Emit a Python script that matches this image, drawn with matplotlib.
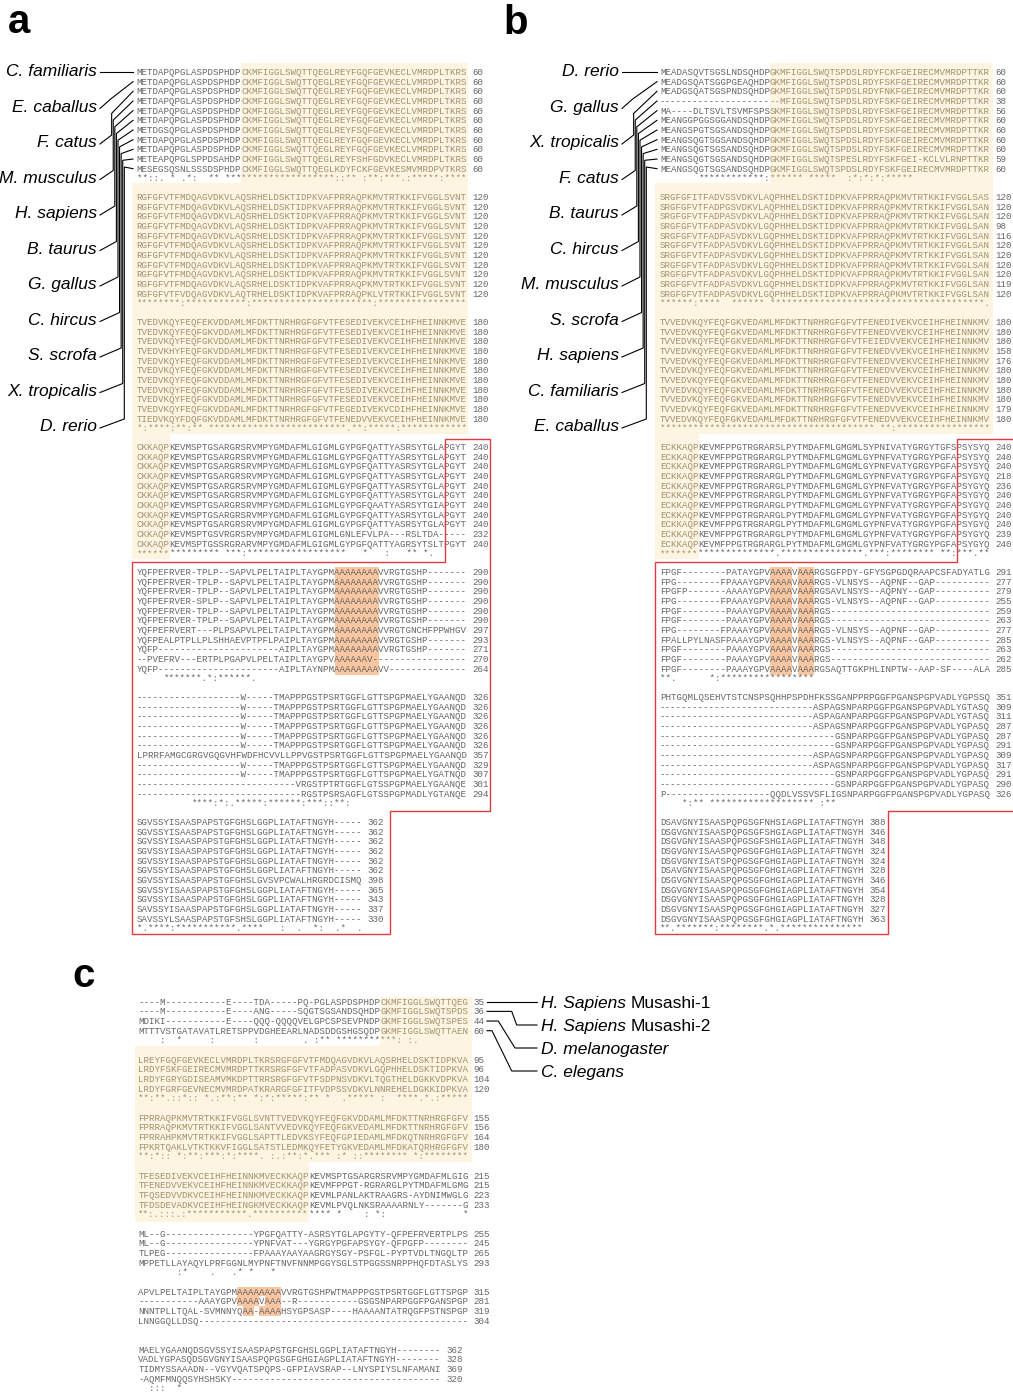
import matplotlib.pyplot as plt
from matplotlib.patches import Polygon, Rectangle

# ---------------------------------------------------------------- data
SPECIES_A = ['C. familiaris', 'E. caballus', 'F. catus', 'M. musculus', 'H. sapiens',
             'B. taurus', 'G. gallus', 'C. hircus', 'S. scrofa', 'X. tropicalis', 'D. rerio']
SPECIES_B = ['D. rerio', 'G. gallus', 'X. tropicalis', 'F. catus', 'B. taurus', 'C. hircus',
             'M. musculus', 'S. scrofa', 'H. sapiens', 'C. familiaris', 'E. caballus']
SPECIES_C = [('H. Sapiens', 'Musashi-1'), ('H. Sapiens', 'Musashi-2'),
             ('D. melanogaster', ''), ('C. elegans', '')]

# Musashi-1 orthologues (panel a)
A_BLOCK1 = [
    "METDAPQPGLASPDSPHDPCKMFIGGLSWQTTQEGLREYFGQFGEVKECLVMRDPLTKRS",
    "METDAPQPGLASPDSPHDPCKMFIGGLSWQTTQEGLREYFGQFGEVKECLVMRDPLTKRS",
    "METDAPQPGLASPDSPHDPCKMFIGGLSWQTTQEGLREYFGQFGEVKECLVMRDPLTKRS",
    "METDAPQPGLASPDSPHDPCKMFIGGLSWQTTQEGLREYFGQFGEVKECLVMRDPLTKRS",
    "METDAPQPGLASPDSPHDPCKMFIGGLSWQTTQEGLREYFGQFGEVKECLVMRDPLTKRS",
    "METDAPQPGLASPDSPHDPCKMFIGGLSWQTTQEGLREYFGQFGEVKECLVMRDPLTKRS",
    "METDGSQPGLASPDSPHDPCKMFIGGLSWQTTQEGLREYFSQFGEVKECLVMRDPLTKRS",
    "METDAPQPGLASPDSPHDPCKMFIGGLSWQTTQEGLREYFGQFGEVKECLVMRDPLTKRS",
    "METDAPQPGLASPDSPHDPCKMFIGGLSWQTTQEGLREYFGQFGEVKECLVMRDPLTKRS",
    "METEAPQPGLSPPDSAHDPCKMFIGGLSWQTTQEGLREYFSHFGDVKECLVMRDPLTKRS",
    "MESEGSQSNLSSSDSPHDPCKMFIGGLSWQTTQEGLKDYFCKFGEVKESMVMRDPVTKRS",
]
A_BLOCK2 = [
    "RGFGFVTFMDQAGVDKVLAQSRHELDSKTIDPKVAFPRRAQPKMVTRTKKIFVGGLSVNT",
    "RGFGFVTFMDQAGVDKVLAQSRHELDSKTIDPKVAFPRRAQPKMVTRTKKIFVGGLSVNT",
    "RGFGFVTFMDQAGVDKVLAQSRHELDSKTIDPKVAFPRRAQPKMVTRTKKIFVGGLSVNT",
    "RGFGFVTFMDQAGVDKVLAQSRHELDSKTIDPKVAFPRRAQPKMVTRTKKIFVGGLSVNT",
    "RGFGFVTFMDQAGVDKVLAQSRHELDSKTIDPKVAFPRRAQPKMVTRTKKIFVGGLSVNT",
    "RGFGFVTFMDQAGVDKVLAQSRHELDSKTIDPKVAFPRRAQPKMVTRTKKIFVGGLSVNT",
    "RGFGFVTFMDQAGVDKVLAQSRHELDSKTIDPKVAFPRRAQPKMVTRTKKIFVGGLSVNT",
    "RGFGFVTFMDQAGVDKVLAQSRHELDSKTIDPKVAFPRRAQPKMVTRTKKIFVGGLSVNT",
    "RGFGFVTFMDQAGVDKVLAQSRHELDSKTIDPKVAFPRRAQPKMVTRTKKIFVGGLSVNT",
    "RGFGFVTFMDQAGVDKVLAQSRHELDSKTIDPKVAFPRRAQPKMVTRTKKIFVGGLSVNT",
    "RGFGFVTFVDQAGVDKVLAQTRHELDSKTIDPKVAFPRRAQPKLVTRTKKIFVGGLSVNT",
]
A_BLOCK3 = [
    "TVEDVKQYFEQFEKVDDAMLMFDKTTNRHRGFGFVTFESEDIVEKVCEIHFHEINNKMVE",
    "TVEDVKQYFEQFGKVDDAMLMFDKTTNRHRGFGFVTFESEDIVEKVCEIHFHEINNKMVE",
    "TVEDVKQYFEQFGKVDDAMLMFDKTTNRHRGFGFVTFESEDIVEKVCEIHFHEINNKMVE",
    "TVEDVKHYFEQFGKVDDAMLMFDKTTNRHRGFGFVTFESEDIVEKVCEIHFHEINNKMVE",
    "TVEDVKQYFEQFGKVDDAMLMFDKTTNRHRGFGFVTFESEDIVEKVCEIHFHEINNKMVE",
    "TVEDVKQYFEQFGKVDDAMLMFDKTTNRHRGFGFVTFESEDIVEKVCEIHFHEINNKMVE",
    "TVEDVKQYFEQFGKVDDAMLMFDKTTNRHRGFGFVTFESEDIVEKVCEIHFHEINNKMVE",
    "TVEDVKQYFEQFGKVDDAMLMFDKTTNRHRGFGFVTFESEDIVEKVCEIHFHEINNKMVE",
    "TVEDVKQYFEQFGKVDDAMLMFDKTTNRHRGFGFVTFESEDIVEKVCEIHFHEINNKMVE",
    "TVEDVKQYFEQFGKVDDAMLMFDKTTNRHRGFGFVTFEGEDIVEKVCDIHFHEINNKMVE",
    "TIEDVKQYFDQFGKVDDAMLMFDKTTNRHRGFGFVTFENEDVVEKVCEIHFHEINNKMVE",
]
A_BLOCK4 = [
    "CKKAQPKEVMSPTGSARGRSRVMPYGMDAFMLGIGMLGYPGFQATTYASRSYTGLAPGYT",
    "CKKAQPKEVMSPTGSARGRSRVMPYGMDAFMLGIGMLGYPGFQATTYASRSYTGLAPGYT",
    "CKKAQPKEVMSPTGSARGRSRVMPYGMDAFMLGIGMLGYPGFQATTYASRSYTGLAPGYT",
    "CKKAQPKEVMSPTGSARGRSRVMPYGMDAFMLGIGMLGYPGFQATTYASRSYTGLAPGYT",
    "CKKAQPKEVMSPTGSARGRSRVMPYGMDAFMLGIGMLGYPGFQATTYASRSYTGLAPGYT",
    "CKKAQPKEVMSPTGSARGRSRVMPYGMDAFMLGIGMLGYPGFQATTYASRSYTGLAPGYT",
    "CKKAQPKEVMSPTGSARGRSRVMPYGMDAFMLGIGMLGYPGFQAATYASRSYTGIAPGYT",
    "CKKAQPKEVMSPTGSARGRSRVMPYGMDAFMLGIGMLGYPGFQATTYASRSYTGLAPGYT",
    "CKKAQPKEVMSPTGSARGRSRVMPYGMDAFMLGIGMLGYPGFQATTYASRSYTGLAPGYT",
    "CKKAQPKEVMSPTGSVRGRSRVMPYGMDAFMLGIGMLGNLEFVLPA---RSLTDA-----",
    "CKKAQPKEVMSPTGSSRGRARVMPYGMDAFMLGIGMLGYPGFQATTYAGRSYTSLTPGYT",
]
A_BLOCK5 = [
    "YQFPEFRVER-TPLP--SAPVLPELTAIPLTAYGPMAAAAAAAAVVRGTGSHP-------",
    "YQFPEFRVER-TPLP--SAPVLPELTAIPLTAYGPMAAAAAAAAVVRGTGSHP-------",
    "YQFPEFRVER-TPLP--SAPVLPELTAIPLTAYGPMAAAAAAAAVVRGTGSHP-------",
    "YQFPEFRVER-SPLP--SAPVLPELTAIPLTAYGPMAAAAAAAAVVRGTGSHP-------",
    "YQFPEFRVER-TPLP--SAPVLPELTAIPLTAYGPMAAAAAAAAVVRGTGSHP-------",
    "YQFPEFRVER-TPLP--SAPVLPELTAIPLTAYGPMAAAAAAAAVVRGTGSHP-------",
    "YQFPEFRVERT---PLPSAPVLPELTAIPLTAYGPMAAAAAAAAVVRGTGNCHFPPWHGV",
    "YQFPEALPTPLLPLSHHAEVPTPFLPAIPLTAYGPMAAAAAAAAVVRGTGSHP-------",
    "YQFP----------------------AIPLTAYGPMAAAAAAAAVVRGTGSHP-------",
    "--PVEFRV---ERTPLPGAPVLPELTAIPLTAYGPVAAAAAAV-----------------",
    "YQFP----------------------AIPLTAYNPMAAAAAAAAVV--------------",
]
A_BLOCK6 = [
    "-------------------W-----TMAPPPGSTPSRTGGFLGTTSPGPMAELYGAANQD",
    "-------------------W-----TMAPPPGSTPSRTGGFLGTTSPGPMAELYGAANQD",
    "-------------------W-----TMAPPPGSTPSRTGGFLGTTSPGPMAELYGAANQD",
    "-------------------W-----TMAPPPGSTPSRTGGFLGTTSPGPMAELYGAANQD",
    "-------------------W-----TMAPPPGSTPSRTGGFLGTTSPGPMAELYGAANQD",
    "-------------------W-----TMAPPPGSTPSRTGGFLGTTSPGPMAELYGAANQD",
    "LPRRFAMGCGRGVGQGVHFWDFHCVVLLPPVGSTPSRTGGFLGTTSPGPMAELYGAANQD",
    "-------------------W-----TMAPPPGSTPSRTGGFLGTTSPGPMAELYGAANQD",
    "-------------------W-----TMAPPPGSTPSRTGGFLGTTSPGPMAELYGATNQD",
    "-----------------------------VRGSTPTRTGGFLGTSSPGPMAELYGAANQE",
    "------------------------------RGSTPSRSAGFLGTSSPGPMADLYGTANQE",
]
A_BLOCK7 = [
    "SGVSSYISAASPAPSTGFGHSLGGPLIATAFTNGYH-----",
    "SGVSSYISAASPAPSTGFGHSLGGPLIATAFTNGYH-----",
    "SGVSSYISAASPAPSTGFGHSLGGPLIATAFTNGYH-----",
    "SGVSSYISAASPAPSTGFGHSLGGPLIATAFTNGYH-----",
    "SGVSSYISAASPAPSTGFGHSLGGPLIATAFTNGYH-----",
    "SGVSSYISAASPAPSTGFGHSLGGPLIATAFTNGYH-----",
    "SGVSSYISAASPAPSTGFGHSLGVSVPCWALHRGRDCISMQ",
    "SGVSSYISAASPAPSTGFGHSLGGPLIATAFTNGYH-----",
    "SGVSSYISAASPAPSTGFGHSLGGPLIATAFTNGYH-----",
    "SAVSSYISAASPAPSTGFGHSLGGPLIATAFTNGYH-----",
    "SAVSSYLSAASPAPSTGFSHSLGGPLIATAFTNGYH-----",
]
A_BLOCKS = [A_BLOCK1, A_BLOCK2, A_BLOCK3, A_BLOCK4, A_BLOCK5, A_BLOCK6, A_BLOCK7]
A_NUMS = [
    [60, 60, 60, 60, 60, 60, 60, 60, 60, 60, 60],
    [120, 120, 120, 120, 120, 120, 120, 120, 120, 120, 120],
    [180, 180, 180, 180, 180, 180, 180, 180, 180, 180, 180],
    [240, 240, 240, 240, 240, 240, 240, 240, 240, 232, 240],
    [290, 290, 290, 290, 290, 290, 297, 293, 271, 270, 264],
    [326, 326, 326, 326, 326, 326, 357, 329, 307, 301, 294],
    [362, 362, 362, 362, 362, 362, 398, 365, 343, 337, 330],
]
A_CONS = [
    "**::. * .*:  ** ********************::** :**:***.:*****:****",
    "********:***********:**********************:****************",
    "*:****:**:** *************************.**:*****:************",
    "*************** ***:******************   *   :   ** *.",
    "     *******.*:******.",
    "          ****:*:.*****:******:***::**:",
    "*.****:***********.****   :  .  *:  .*  .",
]

# Musashi-2 orthologues (panel b)
B_BLOCK1 = [
    "MEADASQVTSGSLNDSQHDPGKMFIGGLSWQTSPDSLRDYFCKFGEIRECMVMRDPTTKR",
    "MEADGSQATSGGPGEAQHDPGKMFIGGLSWQTSPDSLRDYFSKFGEIRECMVMRDPTTKR",
    "MEADGSQATSGSPNDSQHDPGKMFIGGLSWQTSPDSLRDYFNKFGEIRECMVMRDPTTKR",
    "----------------------MFIGGLSWQTSPDSLRDYFSKFGEIRECMVMRDPTTKR",
    "MA----DLTSVLTSVMFSPSSKMFIGGLSWQTSPDSLRDYFSKFGEIRECMVMRDPTTKR",
    "MEANGGPGGSGGANDSQHDPGKMFIGGLSWQTSPDSLRDYFSKFGEIRECMVMRDPTTKR",
    "MEANGSPGTSGSANDSQHDPGKMFIGGLSWQTSPDSLRDYFSKFGEIRECMVMRDPTTKR",
    "MEANGSQGTSGSANDSQHDPGKMFIGGLSWQTSPDSLRDYFSKFGEIRECMVMRDPTTKR",
    "MEANGSQGTSGSANDSQHDPGKMFIGGLSWQTSPDSLRDYFSKFGEIRECMVMRDPTTKR",
    "MEANGSQGTSGSANDSQHDPGKMFIGGLSWQTSPESLRDYFSKFGEI-KCLVLRNPTTKR",
    "MEANGSQGTSGSANDSQHDPGKMFIGGLSWQTSPDSLRDYFSKFGEIRECMVMRDPTTKR",
]
B_BLOCK2 = [
    "SRGFGFITFADVSSVDKVLAQPHHELDSKTIDPKVAFPRRAQPKMVTRTKKIFVGGLSAS",
    "SRGFGFVTFADPGSVDKVLAQPHHELDSKTIDPKVAFPRRAQPKMVTRTKKIFVGGLSAN",
    "SRGFGFVTFADPASVDKVLAQPHHELDSKTIDPKVAFPRRAQPKMVTRTKKIFVGGLSAN",
    "SRGFGFVTFADPASVDKVLGQPHHELDSKTIDPKVAFPRRAQPKMVTRTKKIFVGGLSAN",
    "SRGFGFVTFADPASVDKVLGQPHHELDSKTIDPKVAFPRRAQPKMVTRTKKIFVGGLSAN",
    "SRGFGFVTFADPASVDKVLGQPHHELDSKTIDPKVAFPRRAQPKMVTRTKKIFVGGLSAN",
    "SRGFGFVTFADPASVDKVLGQPHHELDSKTIDPKVAFPRRAQPKMVTRTKKIFVGGLSAN",
    "SRGFGFVTFADPASVDKVLGQPHHELDSKTIDPKVAFPRRAQPKMVTRTKKIFVGGLSAN",
    "SRGFGFVTFADPASVDKVLGQPHHELDSKTIDPKVAFPRRAQPKMVTRTKKIFVGGLSAN",
    "SRGFGFVTFADPASVDKVLGQPHHELDSKTIDPKVAFPRRAQPKMVTRTKKIFVGGLSAN",
    "SRGFGFVTFADPASVDKVLGQPHHELDSKTIDPKVAFPRRAQPKMVTRTKKIFVGGLSAN",
]
B_BLOCK3 = [
    "TVVEDVKQYFEQFGKVEDAMLMFDKTTNRHRGFGFVTFENEDIVEKVCEIHFHEINNKMV",
    "TVVEDVKQYFEQFGKVEDAMLMFDKTTNRHRGFGFVTFENEDVVEKVCEIHFHEINNKMV",
    "TVVEDVKQYFEQFGKVEDAMLMFDKTTNRHRGFGFVTFEIEDVVEKVCEIHFHEINNKMV",
    "TVVEDVKQYFEQFGKVEDAMLMFDKTTNRHRGFGFVTFENEDVVEKVCEIHFHEINNKMV",
    "TVVEDVKQYFEQFGKVEDAMLMFDKTTNRHRGFGFVTFENEDVVEKVCEIHFHEINNKMV",
    "TVVEDVKQYFEQFGKVEDAMLMFDKTTNRHRGFGFVTFENEDVVEKVCEIHFHEINNKMV",
    "TVVEDVKQYFEQFGKVEDAMLMFDKTTNRHRGFGFVTFENEDVVEKVCEIHFHEINNKMV",
    "TVVEDVKQYFEQFGKVEDAMLMFDKTTNRHRGFGFVTFENEDVVEKVCEIHFHEINNKMV",
    "TVVEDVKQYFEQFGKVEDAMLMFDKTTNRHRGFGFVTFENEDVVEKVCEIHFHEINNKMV",
    "TVVEDVKQYFEQFGKVEDAMLMFDKTTNRHRGFGFVTFENEDVVEKVCEIHFHEINNKMV",
    "TVVEDVKQYFEQFGKVEDAMLMFDKTTNRHRGFGFVTFENEDVVEKVCEIHFHEINNKMV",
]
B_BLOCK4 = [
    "ECKKAQPKEVMFPPGTRGRARSLPYTMDAFMLGMGMLSYPNIVATYGRGYTGFSPSYSYQ",
    "ECKKAQPKEVMFPPGTRGRARGLPYTMDAFMLGMGMLGYPNFVATYGRGYPGFAPSYSYQ",
    "ECKKAQPKEVMFPPGTRGRARGLPYTMDAFMLGMGMLGYPNFVATYGRGYPGFAPSYSYQ",
    "ECKKAQPKEVMFPPGTRGRARGLPYTMDAFMLGMGMLGYPNFVATYGRGYPGFAPSYGYQ",
    "ECKKAQPKEVMFPPGTRGRARGLPYTMDAFMLGMGMLGYPNFVATYGRGYPGFAPSYGYQ",
    "ECKKAQPKEVMFPPGTRGRARGLPYTMDAFMLGMGMLGYPNFVATYGRGYPGFAPSYGYQ",
    "ECKKAQPKEVMFPPGTRGRARGLPYTMDAFMLGMGMLGYPNFVATYGRGYPGFAPSYGYQ",
    "ECKKAQPKEVMFPPGTRGRARGLPYTMDAFMLGMGMLGYPNFVATYGRGYPGFAPSYGYQ",
    "ECKKAQPKEVMFPPGTRGRARGLPYTMDAFMLGMGMLGYPNFVATYGRGYPGFAPSYGYQ",
    "ECKKAQPKEVMFPPGTRGRARGLPYTMDAFMLGMGMLGYPNFVATYGRGYPGFAPSYGYQ",
    "ECKKAQPKEVMFPPGTRGRARGLPYTMDAFMLGMGMLGYPNFVATYGRGYPGFAPSYGYQ",
]
B_BLOCK5 = [
    "FPGF--------PATAYGPVAAAAVAAARGSGFPDY-GFYSGPGDQRAAPCSFADYATLG",
    "FPG--------FPAAAYGPVAAAAVAAARGS-VLNSYS--AQPNF--GAP----------",
    "FPGFP-------AAAAYGPVAAAAVAAARGSAVLNSYS--AQPNY--GAP----------",
    "FPG--------FPAAAYGPVAAAAVAAARGS-VLNSYS--AQPNF--GAP----------",
    "FPGF--------PAAAYGPVAAAAVAAARGS-----------------------------",
    "FPGF--------PAAAYGPVAAAAVAAARGS-----------------------------",
    "FPG--------FPAAAYGPVAAAAVAAARGS-VLNSYS--AQPNF--GAP----------",
    "FPALLPYLNASFPAAAYGPVAAAAVAAARGS-VLNSYS--AQPNF--GAP----------",
    "FPGF--------PAAAYGPVAAAAVAAARGS-----------------------------",
    "FPGF--------PAAAYGPVAAAAVAAARGS-----------------------------",
    "FPGF--------PAAAYGPVAAAAVAAARGSAQTTGKPHLINPTW--AAP-SF----ALA",
]
B_BLOCK6 = [
    "PHTGQMLQSEHVTSTCNSPSQHHPSPDHFKSSGANPPRPGGFPGANSPGPVADLYGPSSQ",
    "----------------------------ASPAGSNPARPGGFPGANSPGPVADLYGTASQ",
    "----------------------------ASPAGANPARPGGFPGANSPGPVADLYGTASQ",
    "----------------------------ASPAGSNPARPGGFPGANSPGPVADLYGPASQ",
    "--------------------------------GSNPARPGGFPGANSPGPVADLYGPASQ",
    "--------------------------------GSNPARPGGFPGANSPGPVADLYGPASQ",
    "----------------------------ASPAGSNPARPGGFPGANSPGPVADLYGPASQ",
    "----------------------------ASPAGSNPARPGGFPGANSPGPVADLYGPASQ",
    "--------------------------------GSNPARPGGFPGANSPGPVADLYGPASQ",
    "--------------------------------GSNPARPGGFPGANSPGPVADLYGPASQ",
    "P-------------------QQDLVSSVSFLIGSNPARPGGFPGANSPGPVADLYGPASQ",
]
B_BLOCK7 = [
    "DSAVGNYISAASPQPGSGFNHSIAGPLIATAFTNGYH",
    "DSGVGNYISAASPQPGSGFSHGIAGPLIATAFTNGYH",
    "DSGVGNYISAASPQPGSGFSHGIAGPLIATAFTNGYH",
    "DSGVGNYISAASPQPGSGFGHGIAGPLIATAFTNGYH",
    "DSGVGNYISATSPQPGSGFGHGIAGPLIATAFTNGYH",
    "DSAVGNYISAASPQPGSGFGHGIAGPLIATAFTNGYH",
    "DSGVGNYISAASPQPGSGFGHGIAGPLIATAFTNGYH",
    "DSGVGNYISAASPQPGSGFGHGIAGPLIATAFTNGYH",
    "DSGVGNYISAASPQPGSGFGHGIAGPLIATAFTNGYH",
    "DSGVGNYISAASPQPGSGFGHGIAGPLIATAFTNGYH",
    "DSGVGNYISAASPQPGSGFGHGIAGPLIATAFTNGYH",
]
B_BLOCKS = [B_BLOCK1, B_BLOCK2, B_BLOCK3, B_BLOCK4, B_BLOCK5, B_BLOCK6, B_BLOCK7]
B_NUMS = [
    [60, 60, 60, 38, 56, 60, 60, 60, 60, 59, 60],
    [120, 120, 120, 98, 116, 120, 120, 120, 120, 119, 120],
    [180, 180, 180, 158, 176, 180, 180, 180, 180, 179, 180],
    [240, 240, 240, 218, 236, 240, 240, 240, 240, 239, 240],
    [291, 277, 279, 255, 259, 263, 277, 285, 263, 262, 285],
    [351, 309, 311, 287, 287, 291, 309, 317, 291, 290, 326],
    [388, 346, 348, 324, 324, 328, 346, 354, 328, 327, 363],
]
B_CONS = [
    "       ************:****** *****  :*:*:*:*****",
    "******:****  ****** ***************************************.",
    "*************************************** **:*****************",
    "*********************.***************.***:******** **:***.**",
    "**.      *:*****************",
    "    *:** ******************* :**",
    "**.*******:********.*.***************",
]

# Musashi across phyla (panel c)
C_BLOCK1 = [
    "----M-----------E----TDA-----PQ-PGLASPDSPHDPCKMFIGGLSWQTTQEG",
    "----M-----------E----ANG-----SQGTSGSANDSQHDPGKMFIGGLSWQTSPDS",
    "MDIKI-----------E----QQQ-QQQQVELGPCSPSEVPNDPGKMFIGGLSWQTSPES",
    "MTTTVSTGATAVATLRETSPPVDGHEEARLNADSDDGSHGSQDPGKMFIGGLSWQTTAEN",
]
C_BLOCK2 = [
    "LREYFGQFGEVKECLVMRDPLTKRSRGFGFVTFMDQAGVDKVLAQSRHELDSKTIDPKVA",
    "LRDYFSKFGEIRECMVMRDPTTKRSRGFGFVTFADPASVDKVLGQPHHELDSKTIDPKVA",
    "LRDYFGRYGDISEAMVMKDPTTRRSRGFGFVTFSDPNSVDKVLTQGTHELDGKKVDPKVA",
    "LRDYFGRFGEVNECMVMRDPATKRARGFGFITFVDPSSVDKVLNNREHELDGKKIDPKVA",
]
C_BLOCK3 = [
    "FPRRAQPKMVTRTKKIFVGGLSVNTTVEDVKQYFEQFGKVDDAMLMFDKTTNRHRGFGFV",
    "FPRRAQPKMVTRTKKIFVGGLSANTVVEDVKQYFEQFGKVEDAMLMFDKTTNRHRGFGFV",
    "FPRRAHPKMVTRTKKIFVGGLSAPTTLEDVKSYFEQFGPIEDAMLMFDKQTNRHRGFGFV",
    "FPKRTQAKLVTKTKKVFIGGLSATSTLEDMKQYFETYGKVEDAMLMFDKATQRHRGFGFV",
]
C_BLOCK4 = [
    "TFESEDIVEKVCEIHFHEINNKMVECKKAQPKEVMSPTGSARGRSRVMPYGMDAFMLGIG",
    "TFENEDVVEKVCEIHFHEINNKMVECKKAQPKEVMFPPGT-RGRARGLPYTMDAFMLGMG",
    "TFQSEDVVDKVCEIHFHEINNKMVECKKAQPKEVMLPANLAKTRAAGRS-AYDNIMWGLG",
    "TFDSDEVADKVCEIHFHEINGKMVECKKAQPKEVMLPVQLNKSRAAAARNLY-------G",
]
C_BLOCK5 = [
    "ML--G----------------YPGFQATTY-ASRSYTGLAPGYTY-QFPEFRVERTPLPS",
    "ML--G----------------YPNFVAT---YGRGYPGFAPSYGY-QFPGFP--------",
    "TLPEG----------------FPAAAYAAYAAGRGYSGY-PSFGL-PYPTVDLTNGQLTP",
    "MPPETLLAYAQYLPRFGGNLMYPNFTNVFNNMPGGYSGLSTPGGSSNRPPHQFDTASLYS",
]
C_BLOCK6 = [
    "APVLPELTAIPLTAYGPMAAAAAAAAVVRGTGSHPWTMAPPPGSTPSRTGGFLGTTSPGP",
    "-----------AAAYGPVAAAAVAAA--R-----------GSGSNPARPGGFPGANSPGP",
    "NNNTPLLTQAL-SVMNNYQAA-AAAAHSYGPSASP----HAAAANTATRQGFPSTNSPGP",
    "LNNGGQLLDSQ-------------------------------------------------",
]
C_BLOCK7 = [
    "MAELYGAANQDSGVSSYISAASPAPSTGFGHSLGGPLIATAFTNGYH--------",
    "VADLYGPASQDSGVGNYISAASPQPGSGFGHGIAGPLIATAFTNGYH--------",
    "TIDMYSSAAADN--VGYVQATSPQPS-GFPIAVSRAP--LNYSPIYSLNFAMANI",
    "-AQMFMNQQSYHSHSKY--------------------------------------",
]
C_BLOCKS = [C_BLOCK1, C_BLOCK2, C_BLOCK3, C_BLOCK4, C_BLOCK5, C_BLOCK6, C_BLOCK7]
C_NUMS = [
    [35, 36, 44, 60],
    [95, 96, 104, 120],
    [155, 156, 164, 180],
    [215, 215, 223, 233],
    [255, 245, 265, 293],
    [315, 281, 319, 304],
    [362, 328, 369, 320],
]
C_CONS = [
    "    :  *     :       :        . :** ***********: :.",
    "**:**.::*:: *.:**:** *:*:*****:** *  .***** :  ****.*.:*****",
    "**:*:: *:**:***:*:****. :.:**:*.*** :* ::******** *:********",
    "**:.:::.:***********.************** *    : *:              *",
    "       :*    .   .* *   *",
    "",
    "  :::  *",
]

# --------------------------------------------------------------- layout
CW = 5.5            # character advance (px)
RH = 9.67           # row pitch (px)
BASE = 3.0          # baseline below row centre
A_X0, B_X0, C_X0 = 136.7, 660.0, 138.3
AB_Y0, AB_STEP = 72.0, 125.0
C_Y0, C_STEP = 1001.7, 58.0
LAB_Y0, LAB_STEP = 70.0, 35.5

INK = '#666666'
INK_TAN = '#a0906f'
SHADE = '#fdf5e1'
ALA = '#f8c6a0'
RED = '#e5393e'

# columns that sit on the cream background, per block
A_TAN = {0: (19, 60), 1: (0, 60), 2: (0, 60), 3: (0, 6)}
B_TAN = {0: (20, 60), 1: (0, 60), 2: (0, 60), 3: (0, 7)}
C_TAN = {0: (44, 60), 1: (0, 60), 2: (0, 60), 3: (0, 31)}

MONO = dict(family='Liberation Mono', fontsize=6.6, ha='left', va='baseline', zorder=3)
LAB = dict(family='Liberation Sans', fontsize=12.5, va='baseline', color='black')


def put_line(ax, x0, y, s, tan=None):
    c0, c1 = tan if tan else (0, 0)
    for a, b, col in ((0, c0, INK), (c0, c1, INK_TAN), (c1, len(s), INK)):
        part = s[a:b]
        if not part.strip():
            continue
        lead = len(part) - len(part.lstrip())
        ax.text(x0 + (a + lead) * CW, y + BASE, part.strip(), color=col, **MONO)


def draw_block(ax, x0, y0, rows, nums, cons, tan=None):
    for r, (s, n) in enumerate(zip(rows, nums)):
        y = y0 + r * RH
        put_line(ax, x0, y, s, tan)
        ax.text(x0 + (len(s) + 1) * CW, y + BASE, str(n), color=INK, **MONO)
    if cons:
        put_line(ax, x0, y0 + len(rows) * RH, cons, tan)


def cream(ax, x0, top, y1, y2, y3, c_first, c_last, left, right):
    pts = [(x0 + c_first * CW, top), (right, top), (right, y2),
           (x0 + c_last * CW, y2), (x0 + c_last * CW, y3), (left, y3),
           (left, y1), (x0 + c_first * CW, y1)]
    ax.add_patch(Polygon(pts, closed=True, facecolor=SHADE, edgecolor='none', zorder=0))


def ya(b, r):
    return AB_Y0 + b * AB_STEP + r * RH


def yc(b, r):
    return C_Y0 + b * C_STEP + r * RH


def leaders(ax, lab_x, seq_x, names, vert_x0):
    for i, name in enumerate(names):
        yl = LAB_Y0 + i * LAB_STEP
        ax.text(lab_x, yl + 6.2, name, ha='right', style='italic', **LAB)
        yr = ya(0, i)
        if i == 0:
            xs, ys = [lab_x + 3, seq_x], [yr, yr]
        else:
            vx = vert_x0 + 1.58 * i
            yb = yl - 6
            yt = min(AB_Y0 + 28 + 6.7 * i, yb)
            xs, ys = [lab_x + 3, vx, vx, seq_x], [yl + 3, yb, yt, yr]
        ax.plot(xs, ys, color='black', lw=0.8, solid_joinstyle='miter')


fig = plt.figure(figsize=(10.13, 13.92), dpi=100)
ax = fig.add_axes([0, 0, 1, 1])
ax.set_xlim(0, 1013)
ax.set_ylim(1392, 0)
ax.axis('off')

# cream background over the RRM domains
cream(ax, A_X0, ya(0, 0) - 9, ya(0, 11) + 5, ya(2, 11) + 5.5, ya(3, 11) + 5.5,
      19, 6, A_X0 - 5, A_X0 + 60.2 * CW)
cream(ax, B_X0, ya(0, 0) - 9, ya(0, 11) + 5, ya(2, 11) + 5.5, ya(3, 11) + 5.5,
      20, 7, B_X0 - 5, B_X0 + 60.5 * CW)
cream(ax, C_X0, yc(0, 0) - 5, yc(0, 4) + 6, yc(2, 4) + 6, yc(3, 4) + 8,
      44, 31, C_X0 - 3.3, C_X0 + 60.6 * CW)

# poly-alanine stretches
ax.add_patch(Rectangle((A_X0 + 36 * CW, ya(4, 0) - 5), 8 * CW, 10 * RH + 11,
                       facecolor=ALA, edgecolor='none', zorder=1))
for c0, w in ((20, 4), (25, 3)):
    ax.add_patch(Rectangle((B_X0 + c0 * CW, ya(4, 0) - 5), w * CW, 10 * RH + 11,
                           facecolor=ALA, edgecolor='none', zorder=1))
for r, s in enumerate(C_BLOCK6[:3]):
    for c in range(18, 26):
        if s[c] == 'A':
            ax.add_patch(Rectangle((C_X0 + c * CW, yc(5, r) - 5), CW, RH,
                                   facecolor=ALA, edgecolor='none', zorder=1,
                                   antialiased=False))

# sequence blocks
for b in range(7):
    draw_block(ax, A_X0, ya(b, 0), A_BLOCKS[b], A_NUMS[b], A_CONS[b], A_TAN.get(b))
    draw_block(ax, B_X0, ya(b, 0), B_BLOCKS[b], B_NUMS[b], B_CONS[b], B_TAN.get(b))
    draw_block(ax, C_X0, yc(b, 0), C_BLOCKS[b], C_NUMS[b], C_CONS[b], C_TAN.get(b))

# red outlines around the C-terminal region
red_a = [(A_X0 + 56 * CW, ya(3, 0) - 8.5), (A_X0 + 64.3 * CW, ya(3, 0) - 8.5),
         (A_X0 + 64.3 * CW, ya(6, 0) - 11), (A_X0 + 46 * CW, ya(6, 0) - 11),
         (A_X0 + 46 * CW, ya(6, 11) + 6), (A_X0 - 4.7, ya(6, 11) + 6),
         (A_X0 - 4.7, ya(4, 0) - 10), (A_X0 + 56 * CW, ya(4, 0) - 10)]
red_b = [(B_X0 + 54 * CW, ya(3, 0) - 8.5), (1020, ya(3, 0) - 8.5),
         (1020, ya(6, 0) - 11), (B_X0 + 41.5 * CW, ya(6, 0) - 11),
         (B_X0 + 41.5 * CW, ya(6, 11) + 6), (B_X0 - 5, ya(6, 11) + 6),
         (B_X0 - 5, ya(4, 0) - 10), (B_X0 + 54 * CW, ya(4, 0) - 10)]
for pts in (red_a, red_b):
    ax.add_patch(Polygon(pts, closed=True, fill=False, edgecolor=RED, lw=1.0,
                         joinstyle='miter', zorder=4))

# species labels with leader lines
leaders(ax, 97, 133, SPECIES_A, 108.5)
leaders(ax, 619, 657, SPECIES_B, 630.5)

renderer = fig.canvas.get_renderer()
c_lab_y = [1002, 1025, 1048, 1071]
c_bends = [(489, 489), (511.7, 516.7), (498.3, 515), (492, 511.7)]
for i, (ital, plain) in enumerate(SPECIES_C):
    yl = c_lab_y[i]
    yr = yc(0, i)
    (bx0, bx1) = c_bends[i]
    ax.plot([487, bx0, bx1, 537], [yr, yr, yl, yl], color='black', lw=0.8)
    t = ax.text(541, yl + 6.2, ital, style='italic', **LAB)
    if plain:
        ext = t.get_window_extent(renderer)
        x1 = ax.transData.inverted().transform((ext.x1, ext.y0))[0]
        ax.text(x1 + 4.8, yl + 6.2, plain, **LAB)

# panel letters
for letter, x, y in (('a', 8, 33), ('b', 503, 34), ('c', 72, 987)):
    ax.text(x, y, letter, family='Liberation Sans', fontsize=29, fontweight='bold',
            va='baseline', ha='left')

fig.savefig('out.png', dpi=100)
